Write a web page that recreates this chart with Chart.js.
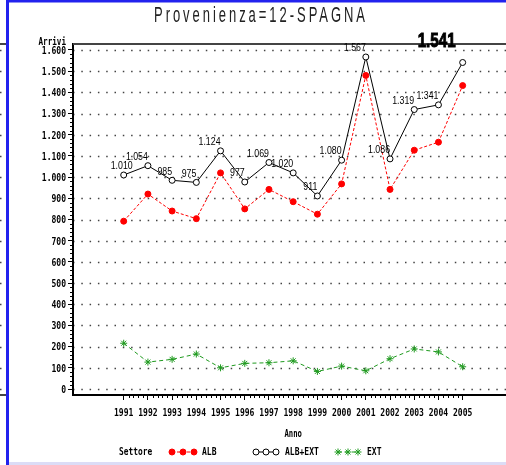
<!DOCTYPE html>
<html lang="it">
<head>
<meta charset="utf-8">
<title>Provenienza=12-SPAGNA</title>
<style>
	html, body { margin: 0; padding: 0; background: #fff; }
	#wrap { width: 506px; height: 465px; overflow: hidden; }
</style>
</head>
<body>
<div id="wrap"><canvas id="arriviChart" width="506" height="465"></canvas></div>

<script src="https://cdn.jsdelivr.net/npm/chart.js@4/dist/chart.umd.min.js"></script>
<script>
const anni = [1991, 1992, 1993, 1994, 1995, 1996, 1997, 1998, 1999, 2000, 2001, 2002, 2003, 2004, 2005];
const alb = [792, 920, 840, 804, 1020, 850, 942, 884, 825, 968, 1480, 942, 1127, 1165, 1432];
const albExt = [1010, 1054, 985, 975, 1124, 977, 1069, 1020, 911, 1080, 1567, 1086, 1319, 1341, 1541];
const ext = [216, 127, 140, 165, 100, 121, 124, 133, 83, 108, 86, 143, 189, 175, 105];
const yTicks = [0, 100, 200, 300, 400, 500, 600, 700, 800, 900, 1000, 1100, 1200, 1300, 1400, 1500, 1600];
const serie = ['ALB', 'ALB+EXT', 'EXT'];

const ROSSO = '#ff0000';
const NERO = '#000000';
const VERDE = '#1f9a1f';
const MONO = 'bold 11px "DejaVu Sans Mono", "Liberation Mono", monospace';
const SQ = 0.73;

// 1.600 style
function fmt(v) {
	return v >= 1000 ? Math.floor(v / 1000) + '.' + String(v % 1000).padStart(3, '0') : String(v);
}

// narrow text like the SAS fonts; sx < 0 means "fit to -sx pixels"
function squeeze(ctx, text, x, y, font, sx, align, heavy) {
	ctx.save();
	ctx.font = font;
	ctx.textBaseline = 'middle';
	const nat = ctx.measureText(text).width;
	if (sx < 0) sx = -sx / nat;
	const w = nat * sx;
	const left = align === 'right' ? x - w : align === 'center' ? x - w / 2 : x;
	ctx.translate(left, y);
	ctx.scale(sx, 1);
	ctx.textAlign = 'left';
	ctx.fillText(text, 0, 0);
	if (heavy) {
		ctx.strokeStyle = ctx.fillStyle;
		ctx.lineWidth = heavy;
		ctx.strokeText(text, 0, 0);
	}
	ctx.restore();
}

function marker(ctx, style, r, x, y) {
	if (Chart.helpers && Chart.helpers.drawPoint) {
		Chart.helpers.drawPoint(ctx, { pointStyle: style, radius: r, rotation: 0, borderWidth: 1 }, x, y);
	} else {
		ctx.beginPath(); ctx.arc(x, y, r, 0, Math.PI * 2); ctx.fill(); ctx.stroke();
	}
}

const sasDecor = {
	id: 'sasDecor',
	beforeDraw(chart) {
		const { ctx, chartArea: a, scales: { y } } = chart;
		ctx.save();
		ctx.fillStyle = '#fff';
		ctx.fillRect(0, 0, chart.width, chart.height);
		// dotted reference lines
		ctx.strokeStyle = '#444';
		ctx.lineWidth = 1.5;
		ctx.setLineDash([1.5, 6.8]);
		yTicks.forEach(v => {
			const py = Math.round(y.getPixelForValue(v)) + 0.5;
			ctx.beginPath(); ctx.moveTo(a.left, py); ctx.lineTo(a.right, py); ctx.stroke();
			ctx.beginPath(); ctx.moveTo(0, py); ctx.lineTo(3, py); ctx.stroke();
		});
		ctx.restore();
	},
	afterDraw(chart) {
		const { ctx, chartArea: a, scales: { x, y } } = chart;
		ctx.save();
		// frame top
		ctx.strokeStyle = '#444';
		ctx.lineWidth = 2;
		ctx.beginPath(); ctx.moveTo(a.left, a.top); ctx.lineTo(a.right, a.top); ctx.stroke();
		ctx.beginPath(); ctx.moveTo(0, a.top); ctx.lineTo(6, a.top); ctx.stroke();
		ctx.beginPath(); ctx.moveTo(0, a.bottom); ctx.lineTo(6, a.bottom); ctx.stroke();

		// minor ticks
		ctx.strokeStyle = NERO;
		ctx.lineWidth = 1;
		for (let v = 0; v <= 1600; v += 20) {
			if (v % 100 === 0) continue;
			const py = Math.round(y.getPixelForValue(v)) + 0.5;
			ctx.beginPath(); ctx.moveTo(a.left - 3, py); ctx.lineTo(a.left, py); ctx.stroke();
		}
		for (let i = 0; i < anni.length - 1; i++) {
			for (let k = 1; k < 5; k++) {
				const px = Math.round(x.getPixelForValue(anni[i] + k / 5)) + 0.5;
				ctx.beginPath(); ctx.moveTo(px, a.bottom); ctx.lineTo(px, a.bottom + 3); ctx.stroke();
			}
		}

		// tick labels
		ctx.fillStyle = NERO;
		y.ticks.forEach(t => squeeze(ctx, fmt(t.value), a.left - 7, y.getPixelForValue(t.value) + 1, MONO, SQ, 'right'));
		x.ticks.forEach(t => squeeze(ctx, String(t.value), x.getPixelForValue(t.value), a.bottom + 18, MONO, SQ, 'center'));
		squeeze(ctx, 'Arrivi', a.left - 7, 42, MONO, SQ * 0.95, 'right');
		squeeze(ctx, 'Anno', x.getPixelForValue(1998), 434, MONO, SQ * 0.9, 'center');

		// title
		ctx.save();
		ctx.font = '22px "Liberation Sans", Arial, sans-serif';
		ctx.letterSpacing = '5px';
		ctx.fillStyle = '#222';
		ctx.textBaseline = 'middle';
		const titolo = 'Provenienza=12-SPAGNA';
		const tw = ctx.measureText(titolo).width;
		const sx = 214 / tw;
		ctx.translate(154, 16);
		ctx.scale(sx, 1);
		ctx.fillText(titolo, 0, 0);
		ctx.restore();

		// point labels on ALB+EXT
		const meta = chart.getDatasetMeta(1);
		meta.data.forEach((p, i) => {
			const txt = fmt(albExt[i]);
			if (i === anni.length - 1) {
				squeeze(ctx, txt, p.x - 7, 41, 'bold 21px "Liberation Sans", Arial, sans-serif', -38, 'right', 1);
			} else {
				const dx = i === 0 ? 9 : 0;
				squeeze(ctx, txt, p.x + dx, p.y - 8.5, '10px "Liberation Sans", Arial, sans-serif', 0.88, 'right');
			}
		});

		// legend
		const ly = 452;
		squeeze(ctx, 'Settore', 119, ly, MONO, SQ * 0.98, 'left');
		const voci = [
			{ nome: serie[0], col: ROSSO, dash: [3, 2], style: 'circle', r: 3, fill: ROSSO, xs: [172, 183, 194], tx: 202 },
			{ nome: serie[1], col: NERO, dash: [], style: 'circle', r: 3, fill: '#fff', xs: [256, 266, 276], tx: 285 },
			{ nome: serie[2], col: VERDE, dash: [4, 3], style: 'star', r: 3.5, fill: VERDE, xs: [338, 348, 358], tx: 367 }
		];
		voci.forEach(v => {
			ctx.save();
			ctx.strokeStyle = v.col;
			ctx.lineWidth = 1;
			ctx.setLineDash(v.dash);
			ctx.beginPath(); ctx.moveTo(v.xs[0], ly); ctx.lineTo(v.xs[2], ly); ctx.stroke();
			ctx.setLineDash([]);
			ctx.fillStyle = v.fill;
			v.xs.forEach(px => marker(ctx, v.style, v.r, px, ly));
			ctx.restore();
			ctx.fillStyle = NERO;
			squeeze(ctx, v.nome, v.tx, ly, MONO, SQ, 'left');
		});

		// page edges of the report viewer
		ctx.fillStyle = '#2222ee';
		ctx.fillRect(6, 0, 3, chart.height);
		ctx.fillRect(6, 0, chart.width, 2.5);
		ctx.fillStyle = '#dcdcf6';
		ctx.fillRect(9, chart.height - 3, chart.width, 3);
		ctx.restore();
	}
};

const ctx = document.getElementById('arriviChart').getContext('2d');

new Chart(ctx, {
	type: 'line',
	data: {
		datasets: [
			{
				label: serie[0],
				data: alb.map((v, i) => ({ x: anni[i], y: v })),
				borderColor: ROSSO,
				backgroundColor: ROSSO,
				borderWidth: 1,
				borderDash: [3, 2],
				pointStyle: 'circle',
				pointRadius: 3,
				pointBorderWidth: 1
			},
			{
				label: serie[1],
				data: albExt.map((v, i) => ({ x: anni[i], y: v })),
				borderColor: NERO,
				backgroundColor: '#fff',
				borderWidth: 1,
				pointStyle: 'circle',
				pointRadius: 3,
				pointBorderWidth: 1
			},
			{
				label: serie[2],
				data: ext.map((v, i) => ({ x: anni[i], y: v })),
				borderColor: VERDE,
				backgroundColor: VERDE,
				borderWidth: 1,
				borderDash: [4, 3],
				pointStyle: 'star',
				pointRadius: 3.5,
				pointBorderWidth: 1
			}
		]
	},
	options: {
		responsive: false,
		animation: false,
		events: [],
		layout: { autoPadding: false, padding: { top: 44, left: 0, right: 0, bottom: 0 } },
		plugins: {
			legend: { display: false },
			title: { display: false },
			tooltip: { enabled: false }
		},
		scales: {
			x: {
				type: 'linear',
				min: 1988.906,
				max: 2006.79,
				afterBuildTicks: s => { s.ticks = anni.map(v => ({ value: v })); },
				afterFit: s => { s.height = 70; },
				ticks: { display: false },
				grid: { drawOnChartArea: false, drawTicks: true, tickLength: 5, color: NERO, lineWidth: 1 },
				border: { display: true, color: NERO, width: 2 }
			},
			y: {
				min: -28.3,
				max: 1628.3,
				afterBuildTicks: s => { s.ticks = yTicks.map(v => ({ value: v })); },
				afterFit: s => { s.width = 73; },
				ticks: { display: false },
				grid: { drawOnChartArea: false, drawTicks: true, tickLength: 5, color: NERO, lineWidth: 1 },
				border: { display: true, color: NERO, width: 2 }
			}
		}
	},
	plugins: [sasDecor]
});
</script>
</body>
</html>
